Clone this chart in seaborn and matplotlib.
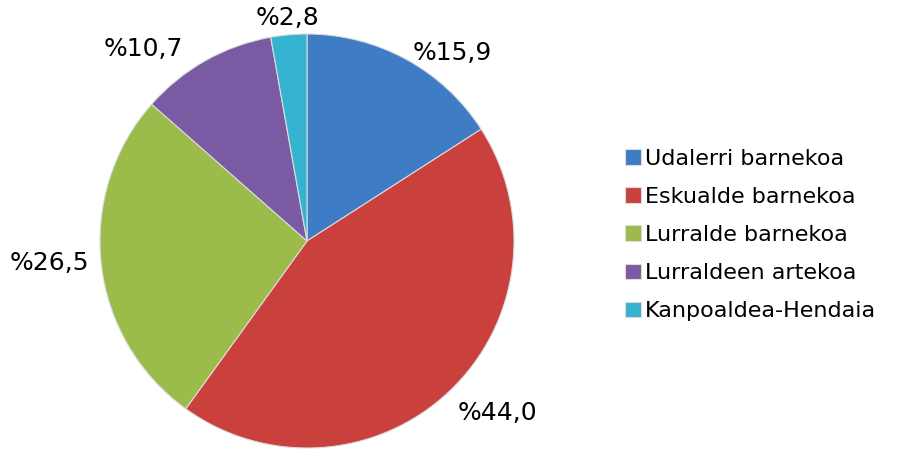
import matplotlib
matplotlib.use("Agg")
import numpy as np
import matplotlib.pyplot as plt
import seaborn as sns

# datuak
kategoriak = ["Udalerri barnekoa", "Eskualde barnekoa", "Lurralde barnekoa",
              "Lurraldeen artekoa", "Kanpoaldea-Hendaia"]
ehunekoak = [15.9, 44.0, 26.5, 10.7, 2.8]
koloreak = ["#3f7cc6", "#c9403d", "#9bbb4b", "#7a5ba3", "#35b3d0"]

# etiketen kokapena (erradio-distantzia, angelu-desplazamendua gradutan)
etiketa_dist = [1.15, 1.24, 1.25, 1.22, 1.08]
etiketa_desp = [-9, 4.6, -1.6, 11, 0]

sns.set_theme(style="white")
plt.rcParams["font.family"] = ["DejaVu Sans"]
paleta = sns.color_palette(koloreak)

fig = plt.figure(figsize=(8.98, 4.59), dpi=100)
r_px = 207
ax = fig.add_axes([(307 - r_px) / 898, (459 - 241 - r_px) / 459,
                   2 * r_px / 898, 2 * r_px / 459])

wedges, _ = ax.pie(
    ehunekoak,
    colors=paleta,
    startangle=90,
    counterclock=False,
    radius=1.0,
    wedgeprops=dict(edgecolor="#dcdcdc", linewidth=0.8),
)

for w, v, d, o in zip(wedges, ehunekoak, etiketa_dist, etiketa_desp):
    ang = np.deg2rad((w.theta1 + w.theta2) / 2 + o)
    ax.text(d * np.cos(ang), d * np.sin(ang),
            "%" + f"{v:.1f}".replace(".", ","),
            ha="center", va="center", fontsize=18, color="black")

ax.set_xlim(-1, 1)
ax.set_ylim(-1, 1)
ax.set_aspect("equal")
ax.axis("off")

fig.legend(
    wedges, kategoriak,
    loc="center left",
    bbox_to_anchor=(605 / 898, 1 - 235 / 459),
    frameon=False,
    fontsize=16,
    labelcolor="black",
    handlelength=0.7,
    handleheight=0.7,
    handletextpad=0.2,
    labelspacing=0.82,
)

fig.savefig("out.png", dpi=100, facecolor="white")
